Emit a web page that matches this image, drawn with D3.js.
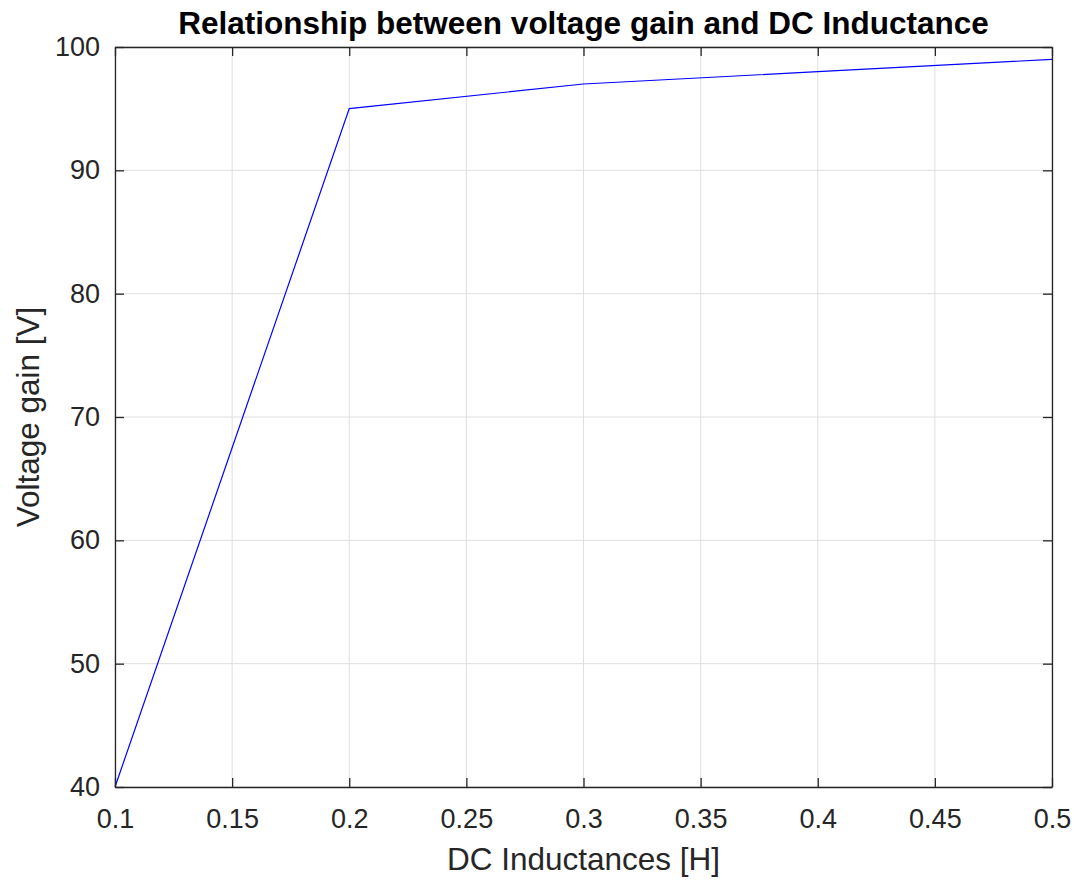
<!DOCTYPE html>
<html>
<head>
<meta charset="utf-8">
<script src="https://cdn.jsdelivr.net/npm/d3@7"></script>
<style>
  body { margin: 0; background: #fff; }
  svg text { font-family: "Liberation Sans", Arial, Helvetica, sans-serif; fill: #262626; }
</style>
</head>
<body>
<div id="chart"></div>
<script>
// data
var inductance = [0.1, 0.2, 0.3, 0.4, 0.5];
var voltageGain = [40, 95, 97, 98, 99];
var xTicks = [0.1, 0.15, 0.2, 0.25, 0.3, 0.35, 0.4, 0.45, 0.5];
var yTicks = [40, 50, 60, 70, 80, 90, 100];

var W = 1077, H = 880;
var margin = {top: 47, right: 25, bottom: 93, left: 115},
    width = W - margin.left - margin.right,
    height = H - margin.top - margin.bottom;

var svg = d3.select("#chart")
    .append("svg")
        .attr("width", W)
        .attr("height", H)
    .append("g")
        .attr("transform", "translate(" + margin.left + "," + margin.top + ")");

var x = d3.scaleLinear().domain([0.1, 0.5]).range([0, width]);
var y = d3.scaleLinear().domain([40, 100]).range([height, 0]);

// grid
svg.append("g").selectAll("line.vx")
    .data(xTicks).enter().append("line")
    .attr("x1", function(d) { return x(d); }).attr("x2", function(d) { return x(d); })
    .attr("y1", 0).attr("y2", height)
    .attr("stroke", "#dfdfdf").attr("stroke-width", 1);
svg.append("g").selectAll("line.hy")
    .data(yTicks).enter().append("line")
    .attr("y1", function(d) { return y(d); }).attr("y2", function(d) { return y(d); })
    .attr("x1", 0).attr("x2", width)
    .attr("stroke", "#dfdfdf").attr("stroke-width", 1);

// line
var line = d3.line()
    .x(function(d, i) { return x(inductance[i]); })
    .y(function(d) { return y(d); });
svg.append("path")
    .datum(voltageGain)
    .attr("d", line)
    .attr("fill", "none")
    .attr("stroke", "#0000ff")
    .attr("stroke-width", 1.2);

// axes (inward ticks, box on)
var tk = 9;
function styleAxis(g) {
    g.select(".domain").attr("stroke", "#262626").attr("stroke-width", 1.3);
    g.selectAll(".tick line").attr("stroke", "#262626").attr("stroke-width", 1.3);
    g.selectAll("text").attr("font-size", "27px").attr("fill", "#262626")
        .attr("font-family", "Liberation Sans, Arial, sans-serif");
}
svg.append("g")
    .attr("transform", "translate(0," + height + ")")
    .call(d3.axisBottom(x).tickValues(xTicks).tickFormat(d3.format("")).tickSizeInner(-tk).tickSizeOuter(0).tickPadding(22))
    .call(styleAxis);
svg.append("g")
    .call(d3.axisTop(x).tickValues(xTicks).tickSizeInner(-tk).tickSizeOuter(0).tickFormat(""))
    .call(styleAxis);
svg.append("g")
    .call(d3.axisLeft(y).tickValues(yTicks).tickSizeInner(-tk).tickSizeOuter(0).tickPadding(15))
    .call(styleAxis);
svg.append("g")
    .attr("transform", "translate(" + width + ",0)")
    .call(d3.axisRight(y).tickValues(yTicks).tickSizeInner(-tk).tickSizeOuter(0).tickFormat(""))
    .call(styleAxis);

// labels
svg.append("text")
    .attr("x", width / 2).attr("y", -13)
    .attr("text-anchor", "middle")
    .attr("font-size", "31.5px").attr("font-weight", "bold")
    .style("fill", "#000")
    .text("Relationship between voltage gain and DC Inductance");
svg.append("text")
    .attr("x", width / 2).attr("y", height + 83)
    .attr("text-anchor", "middle")
    .attr("font-size", "31.5px")
    .text("DC Inductances [H]");
svg.append("text")
    .attr("transform", "translate(" + (39 - margin.left) + "," + (height / 2) + ") rotate(-90)")
    .attr("text-anchor", "middle")
    .attr("font-size", "31.5px")
    .text("Voltage gain [V]");
</script>
</body>
</html>
